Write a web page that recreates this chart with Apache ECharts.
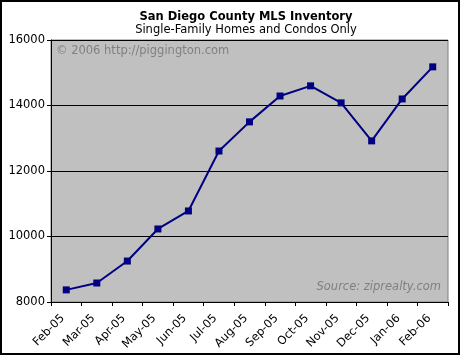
<!DOCTYPE html>
<html><head><meta charset="utf-8">
<script src="https://cdn.jsdelivr.net/npm/echarts@6/dist/echarts.min.js"></script>
<style>
html,body{margin:0;padding:0;background:#fff;}
#wrap{position:absolute;left:0;top:0;width:456px;height:351px;border:2px solid #000;}
#c{width:456px;height:351px;}
</style></head>
<body><div id="wrap"><div id="c"></div></div>
<script>
const months = ['Feb-05','Mar-05','Apr-05','May-05','Jun-05','Jul-05','Aug-05','Sep-05','Oct-05','Nov-05','Dec-05','Jan-06','Feb-06'];
const inventory = [8370,8580,9250,10230,10780,12610,13500,14290,14600,14080,12920,14200,15180];
const yTicks = [8000,10000,12000,14000,16000];
const FONT = 'DejaVu Sans';
const chart = echarts.init(document.getElementById('c'), null, {renderer:'canvas'});
chart.setOption({
  animation:false,
  title:[
    {text:'San Diego County MLS Inventory', left:239, top:4, textAlign:'center',
     textStyle:{fontFamily:FONT,fontSize:11.5,fontWeight:'bold',color:'#000'}},
    {text:'Single-Family Homes and Condos Only', left:239, top:17, textAlign:'center',
     textStyle:{fontFamily:FONT,fontSize:11.5,fontWeight:'normal',color:'#000'}}
  ],
  graphic:[
    {type:'text', left:54, top:43, style:{text:'© 2006 http://piggington.com', font:'11.5px "DejaVu Sans"', fill:'#808080'}},
    {type:'text', right:17, top:279, style:{text:'Source: ziprealty.com', font:'italic 11.5px "DejaVu Sans"', fill:'#808080'}}
  ],
  grid:{left:49, top:38, right:10, bottom:51, show:true, backgroundColor:'#C0C0C0', borderColor:'#808080', borderWidth:1},
  xAxis:{type:'category', data:months, boundaryGap:true,
    axisLine:{lineStyle:{color:'#000',width:1}},
    axisTick:{show:true, length:4, lineStyle:{color:'#000'}, alignWithLabel:false},
    axisLabel:{rotate:45, fontFamily:FONT, fontSize:11.5, color:'#000', margin:11, interval:0, padding:[0,5,0,0]}
  },
  yAxis:{type:'value', min:8000, max:16000, interval:2000,
    axisLine:{show:true, lineStyle:{color:'#000',width:1}},
    axisTick:{show:true, length:4, inside:false, lineStyle:{color:'#000'}},
    axisLabel:{fontFamily:FONT, fontSize:11.5, color:'#000', margin:6,
      formatter:v=>yTicks.includes(v)?String(v):''},
    splitLine:{show:true, lineStyle:{color:'#000',width:1}}
  },
  series:[{type:'line', data:inventory, symbol:'rect', symbolSize:7,
    lineStyle:{color:'#000080',width:2}, itemStyle:{color:'#000080'}}]
});
</script></body></html>
